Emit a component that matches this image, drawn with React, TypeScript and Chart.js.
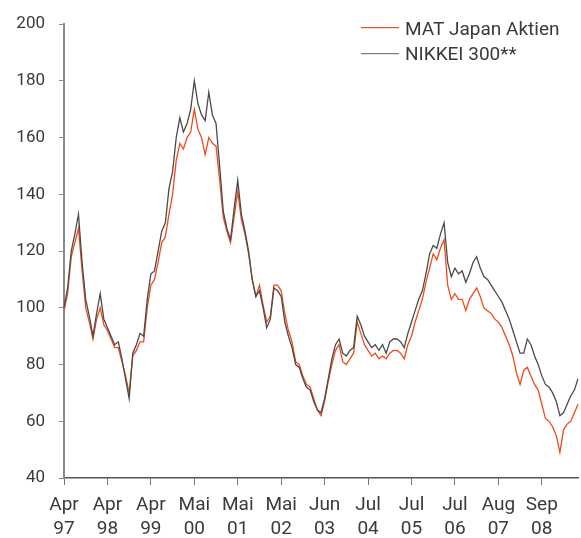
import React, { useEffect, useRef } from "react";
import { Chart, registerables } from "chart.js";

Chart.register(...registerables);

const seriesNames = ["MAT Japan Aktien", "NIKKEI 300**"];
const tickLabels = [
  ["Apr", "97"], ["Apr", "98"], ["Apr", "99"], ["Mai", "00"], ["Mai", "01"], ["Mai", "02"],
  ["Jun", "03"], ["Jul", "04"], ["Jul", "05"], ["Jul", "06"], ["Aug", "07"], ["Sep", "08"],
];
const pointsPerTick = 12;

const nikkei = [
  100, 107, 120, 126, 133, 116, 103, 97, 90, 98, 105, 96,
  93, 90, 87, 88, 82, 75, 68, 84, 87, 91, 90, 103,
  112, 113, 120, 127, 130, 142, 148, 160, 167, 162, 165, 170,
  180, 172, 168, 166, 176, 168, 165, 150, 134, 128, 124, 135,
  145, 133, 127, 120, 110, 104, 106, 100, 93, 96, 107, 106,
  104, 95, 90, 86, 80, 79, 75, 72, 71, 67, 64, 63,
  68, 75, 82, 87, 89, 84, 83, 85, 86, 97, 94, 90,
  88, 86, 87, 85, 87, 84, 88, 89, 89, 88, 86, 91,
  95, 99, 103, 106, 112, 119, 122, 121, 126, 130, 116, 111,
  114, 112, 113, 109, 112, 116, 118, 114, 111, 110, 108, 106,
  104, 102, 99, 96, 92, 88, 84, 84, 89, 87, 83, 80,
  76, 73, 72, 70, 67, 62, 63, 66, 69, 71, 75,
];

const mat = [
  99, 105, 118, 123, 128, 113, 100, 95, 89, 96, 100, 94,
  92, 89, 86, 86, 81, 76, 70, 83, 85, 88, 88, 100,
  108, 110, 116, 123, 125, 133, 140, 152, 158, 156, 160, 162,
  170, 163, 160, 154, 160, 158, 157, 145, 132, 127, 123, 132,
  141, 131, 126, 119, 110, 104, 108, 101, 95, 97, 108, 108,
  106, 98, 92, 88, 81, 80, 76, 73, 72, 68, 64, 62,
  67, 74, 80, 85, 87, 81, 80, 82, 84, 95, 91, 87,
  85, 83, 84, 82, 83, 82, 84, 85, 85, 84, 82, 87,
  90, 95, 99, 103, 109, 114, 119, 117, 121, 124, 108, 103,
  105, 103, 103, 99, 103, 105, 107, 104, 100, 99, 98, 96,
  95, 93, 90, 87, 83, 77, 73, 78, 79, 76, 73, 71,
  66, 61, 60, 58, 55, 49, 57, 59, 60, 63, 66,
];

const ORANGE = "#ef4b1b";
const GRAY = "#4a4a4a";
const LEGEND_GRAY = "#7a7a7a";
const TEXT = "#3a3a3a";
const FONT = "Roboto, 'Liberation Sans', sans-serif";

const legendPlugin = {
  id: "customLegend",
  afterDraw(chart: any) {
    const ctx = chart.ctx as CanvasRenderingContext2D;
    ctx.save();
    // legend swatches
    ctx.fillStyle = ORANGE;
    ctx.fillRect(361, 27, 38, 1.2);
    ctx.fillStyle = LEGEND_GRAY;
    ctx.fillRect(361, 53, 38, 1.2);
    // legend texts
    ctx.font = `19px ${FONT}`;
    ctx.fillStyle = TEXT;
    ctx.textAlign = "left";
    ctx.textBaseline = "alphabetic";
    ctx.fillText(seriesNames[0], 405, 35);
    ctx.fillText(seriesNames[1], 405, 60);
    ctx.restore();
  },
};

export default function App() {
  const ref = useRef<HTMLCanvasElement | null>(null);
  useEffect(() => {
    if (!ref.current) return;
    const labels = nikkei.map((_, i) => String(i));
    const chart = new Chart(ref.current, {
      type: "line",
      data: {
        labels,
        datasets: [
          {
            label: seriesNames[0],
            data: mat,
            borderColor: ORANGE,
            borderWidth: 1.3,
            pointRadius: 0,
            tension: 0,
            order: 1,
          },
          {
            label: seriesNames[1],
            data: nikkei,
            borderColor: GRAY,
            borderWidth: 1.3,
            pointRadius: 0,
            tension: 0,
            order: 0,
          },
        ],
      },
      options: {
        animation: false,
        responsive: false,
        maintainAspectRatio: false,
        layout: { padding: { top: 20, right: 3, left: 0, bottom: 0 } },
        plugins: { legend: { display: false }, tooltip: { enabled: false } },
        scales: {
          x: {
            type: "category",
            offset: false,
            afterFit: (s: any) => { s.height = 60; },
            border: { display: true, color: "#555", width: 1.5 },
            grid: { display: true, drawOnChartArea: false, drawTicks: true, tickLength: 7, color: "#777" },
            ticks: {
              autoSkip: false,
              maxRotation: 0,
              minRotation: 0,
              padding: 8,
              color: TEXT,
              font: { family: FONT, size: 19, lineHeight: 1.26 },
              callback: (_v: any, i: number) =>
                i % pointsPerTick === 0 ? tickLabels[i / pointsPerTick] : null,
            },
          },
          y: {
            min: 40,
            max: 200,
            afterFit: (s: any) => { s.width = 64; },
            border: { display: true, color: "#8a8a8a", width: 2 },
            grid: { display: true, drawOnChartArea: false, drawTicks: true, tickLength: 5, color: "#8a8a8a" },
            ticks: {
              stepSize: 20,
              padding: 14,
              color: TEXT,
              font: { family: FONT, size: 17 },
            },
          },
        },
      },
      plugins: [legendPlugin],
    });
    return () => chart.destroy();
  }, []);
  return (
    <div style={{ position: "fixed", left: 0, top: 0, width: 581, height: 538, background: "#fff" }}>
      <canvas ref={ref} width={581} height={538} style={{ width: 581, height: 538 }} />
    </div>
  );
}
